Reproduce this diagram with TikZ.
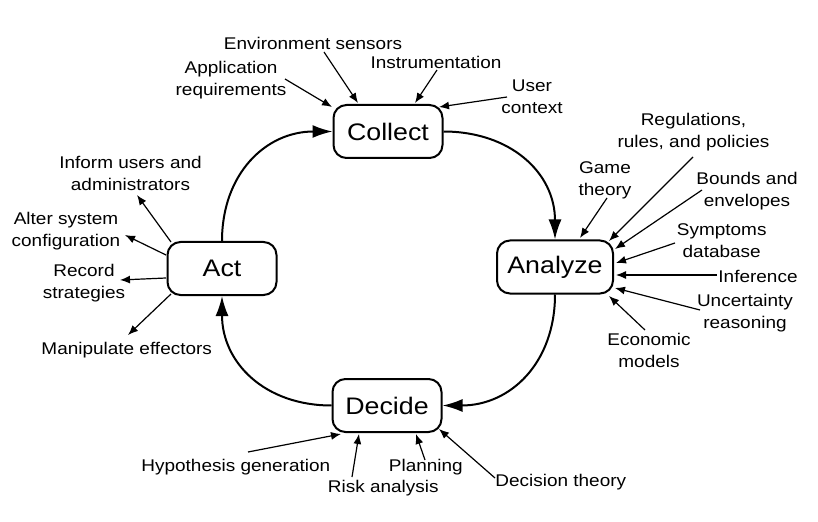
\documentclass[tikz,border=0pt]{standalone}
\usepackage{fontspec}
\setmainfont{Liberation Sans}[FakeStretch=1.12]
\usetikzlibrary{arrows.meta}
\newcommand\lblfont{\fontsize{17}{22}\selectfont}
\newcommand\boxfont{\fontsize{24}{28}\selectfont}
\begin{document}
\begin{tikzpicture}[x=1bp,y=1bp,
  stage/.style={draw, line width=2bp, rounded corners=13bp, minimum width=109bp, minimum height=53bp, inner sep=0pt, font=\boxfont},
  lbl/.style={align=center, inner sep=0pt, font=\lblfont},
  cyc/.style={line width=2bp, looseness=1.1, -{Latex[length=20bp,width=13bp]}},
  inarr/.style={line width=1.2bp, -{Latex[length=10bp,width=8bp]}}]
\useasboundingbox (0,0) rectangle (818,-522);
\fill[white] (0,0) rectangle (818,-522);

% stages
\node[stage] (collect) at (388,-131.5) {Collect};
\node[stage, minimum width=116bp] (analyze) at (555,-267) {Analyze};
\node[stage] (decide) at (387,-405.5) {Decide};
\node[stage] (act) at (222,-268.5) {Act};

% cycle
\draw[cyc] (collect.east) to[out=0,in=90] (analyze.north);
\draw[cyc] (analyze.south) to[out=-90,in=0] (decide.east);
\draw[cyc] (decide.west) to[out=180,in=-90] (act.south);
\draw[cyc] (act.north) to[out=90,in=180] (collect.west);

% Collect inputs
\node[lbl] (envsens) at (313,-43) {Environment sensors};
\node[lbl] (appreq) at (231,-80) {Application\\requirements};
\node[lbl] (instr) at (436,-62) {Instrumentation};
\node[lbl] (user) at (532,-96.5) {User\\context};
\coordinate (s-appreq) at (285,-79);
\coordinate (s-envsens) at (324,-52);
\coordinate (s-instr) at (437,-70);
\coordinate (s-user) at (507,-97);
\draw[inarr] (s-appreq) -- ([shift={(-0.5,-3)}]collect.north west);
\draw[inarr] (s-envsens) -- ([shift={(-30,1)}]collect.north);
\draw[inarr] (s-instr) -- ([shift={(27,1)}]collect.north);
\draw[inarr] (s-user) -- ([shift={(-4.5,-3)}]collect.north east);

% Analyze inputs
\node[lbl] (game) at (605,-180) {Game\\theory};
\node[lbl] (regs) at (693.5,-131.8) {Regulations,\\rules, and policies};
\node[lbl] (bounds) at (747,-191) {Bounds and\\envelopes};
\node[lbl] (symptoms) at (721.7,-240.7) {Symptoms\\database};
\node[lbl] (inference) at (758,-276) {Inference};
\node[lbl] (uncert) at (745,-313.5) {Uncertainty\\reasoning};
\node[lbl] (econ) at (649,-350.7) {Economic\\models};
\coordinate (s-game) at (607,-198);
\coordinate (s-regs) at (693,-157);
\coordinate (s-bounds) at (702,-190);
\coordinate (s-symptoms) at (675,-243);
\coordinate (s-inference) at (717,-275);
\coordinate (s-uncert) at (700,-310);
\coordinate (s-econ) at (645,-330);
\draw[inarr] (s-game) -- ([shift={(25,1.5)}]analyze.north);
\draw[inarr] (s-regs) -- ([shift={(-5,-1.5)}]analyze.north east);
\draw[inarr] (s-bounds) -- ([shift={(1,-9.5)}]analyze.north east);
\draw[inarr] (s-symptoms) -- ([shift={(2,4)}]analyze.east);
\draw[inarr] (s-inference) -- ([shift={(2,-8)}]analyze.east);
\draw[inarr] (s-uncert) -- ([shift={(1,-21)}]analyze.east);
\draw[inarr] (s-econ) -- ([shift={(-5,-1.5)}]analyze.south east);

% Act outputs
\node[lbl] (inform) at (130.5,-173.3) {Inform users and\\administrators};
\node[lbl] (alter) at (66,-231) {Alter system\\configuration};
\node[lbl] (record) at (84,-283.5) {Record\\strategies};
\node[lbl] (manip) at (126.7,-350) {Manipulate effectors};
\coordinate (t-inform) at (137,-195);
\coordinate (t-alter) at (125,-235);
\coordinate (t-record) at (120,-280);
\coordinate (t-manip) at (128,-335);
\draw[inarr] ([shift={(4.5,-1)}]act.north west) -- (t-inform);
\draw[inarr] ([shift={(-0.5,13.5)}]act.west) -- (t-alter);
\draw[inarr] ([shift={(-0.5,-9.5)}]act.west) -- (t-record);
\draw[inarr] ([shift={(4.5,2)}]act.south west) -- (t-manip);

% Decide inputs
\node[lbl] (hyp) at (235.8,-466.8) {Hypothesis generation};
\node[lbl] (risk) at (383.3,-488.5) {Risk analysis};
\node[lbl] (planning) at (425.8,-466.8) {Planning};
\node[lbl] (dtheory) at (560.8,-482.6) {Decision theory};
\coordinate (s-hyp) at (248,-452);
\coordinate (s-risk) at (352,-477);
\coordinate (s-planning) at (425,-460);
\coordinate (s-dtheory) at (495,-478);
\draw[inarr] (s-hyp) -- ([shift={(9.5,-1)}]decide.south west);
\draw[inarr] (s-risk) -- ([shift={(27.5,-1)}]decide.south west);
\draw[inarr] (s-planning) -- ([shift={(-26.5,-1)}]decide.south east);
\draw[inarr] (s-dtheory) -- ([shift={(-3.5,4)}]decide.south east);
\end{tikzpicture}
\end{document}
